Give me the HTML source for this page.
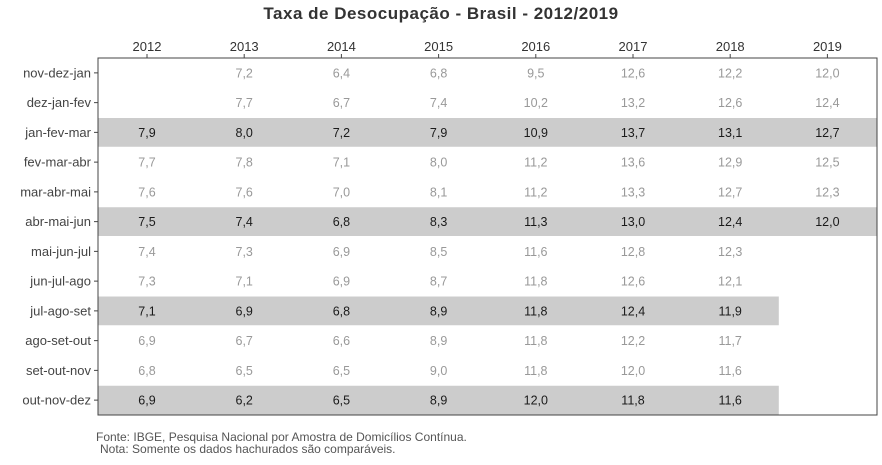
<!DOCTYPE html>
<html><head><meta charset="utf-8"><style>
html,body{margin:0;padding:0;background:#fff;}
svg{display:block;font-family:"Liberation Sans",Arial,sans-serif;}
</style></head><body>
<svg id="chart" width="882" height="465" viewBox="0 0 882 465">
<text x="441" y="19" text-anchor="middle" font-size="17" font-weight="bold" letter-spacing="0.5" fill="#333">Taxa de Desocupação - Brasil - 2012/2019</text>
<g id="g"></g>
<text x="96" y="441" font-size="12" fill="#555">Fonte: IBGE, Pesquisa Nacional por Amostra de Domicílios Contínua.</text>
<text x="100" y="453" font-size="12" fill="#555">Nota: Somente os dados hachurados são comparáveis.</text>
</svg>
<script>
const years=["2012","2013","2014","2015","2016","2017","2018","2019"];
const periods=["nov-dez-jan","dez-jan-fev","jan-fev-mar","fev-mar-abr","mar-abr-mai","abr-mai-jun","mai-jun-jul","jun-jul-ago","jul-ago-set","ago-set-out","set-out-nov","out-nov-dez"];
const highlighted=[2,5,8,11];
const v2012=[null,null,7.9,7.7,7.6,7.5,7.4,7.3,7.1,6.9,6.8,6.9];
const v2013=[7.2,7.7,8.0,7.8,7.6,7.4,7.3,7.1,6.9,6.7,6.5,6.2];
const v2014=[6.4,6.7,7.2,7.1,7.0,6.8,6.9,6.9,6.8,6.6,6.5,6.5];
const v2015=[6.8,7.4,7.9,8.0,8.1,8.3,8.5,8.7,8.9,8.9,9.0,8.9];
const v2016=[9.5,10.2,10.9,11.2,11.2,11.3,11.6,11.8,11.8,11.8,11.8,12.0];
const v2017=[12.6,13.2,13.7,13.6,13.3,13.0,12.8,12.6,12.4,12.2,12.0,11.8];
const v2018=[12.2,12.6,13.1,12.9,12.7,12.4,12.3,12.1,11.9,11.7,11.6,11.6];
const v2019=[12.0,12.4,12.7,12.5,12.3,12.0,null,null,null,null,null,null];
const series=[v2012,v2013,v2014,v2015,v2016,v2017,v2018,v2019];

const L=98,R=877,T=58,B=415;
const colW=97.2, rowH=(B-T)/periods.length;
const xc=i=>147+i*colW;
const yc=j=>T+rowH*(j+0.5);
const NS="http://www.w3.org/2000/svg";
const g=document.getElementById('g');
function mk(t,a){const e=document.createElementNS(NS,t);for(const k in a)e.setAttribute(k,a[k]);g.appendChild(e);return e;}
highlighted.forEach(j=>{
  let last=-1;series.forEach((s,i)=>{if(s[j]!=null)last=i;});
  const x2=last===years.length-1?R:xc(last)+colW/2;
  const r=mk('rect',{x:L,y:yc(j)-rowH/2+0.5,width:x2-L,height:rowH-1,fill:'#cccccc'});
  
  
});
const bd=mk('rect',{x:L,y:T,width:R-L,height:B-T,fill:'none',stroke:'#444','stroke-width':1});


years.forEach((y,i)=>{
  mk('line',{x1:xc(i),x2:xc(i),y1:T-4,y2:T,stroke:'#444'});
  const t=mk('text',{x:xc(i),y:T-7,'text-anchor':'middle','font-size':13,fill:'#333'});
  t.textContent=y;
  
  
});
periods.forEach((p,j)=>{
  mk('line',{x1:L-4,x2:L,y1:yc(j),y2:yc(j),stroke:'#444'});
  const t=mk('text',{x:L-7,y:yc(j)+4.5,'text-anchor':'end','font-size':13,fill:'#444'});
  t.textContent=p;
  
  
});
series.forEach((s,i)=>s.forEach((v,j)=>{
  if(v==null)return;
  const hl=highlighted.includes(j);
  const t=mk('text',{x:xc(i),y:yc(j)+4.5,'text-anchor':'middle','font-size':12.5,fill:hl?'#1a1a1a':'#999'});
  t.textContent=v.toFixed(1).replace('.',',');
  
  
}));
</script>
</body></html>
